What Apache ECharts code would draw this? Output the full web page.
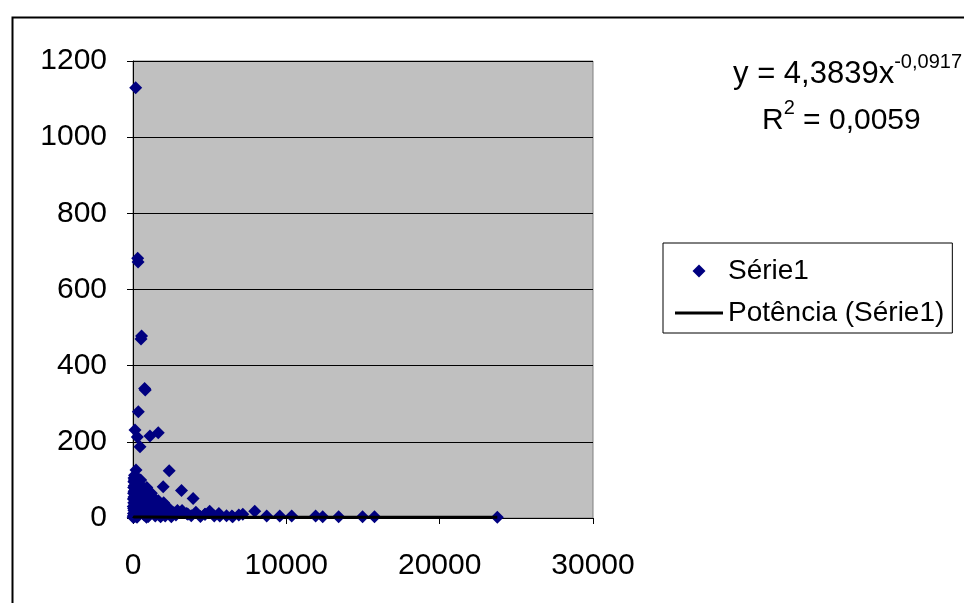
<!DOCTYPE html>
<html>
<head>
<meta charset="utf-8">
<script src="https://cdn.jsdelivr.net/npm/echarts@6/dist/echarts.min.js"></script>
<style>
  html, body { margin: 0; padding: 0; background: #fff; }
  #chart { width: 964px; height: 603px; }
</style>
</head>
<body>
<div id="chart"></div>
<script>
// pontos dispersos (x, y)
var outliers = [
    [175, 1130], [305, 682], [330, 672], [520, 470], [560, 478],
    [760, 340], [800, 336], [345, 279], [130, 231], [280, 213],
    [455, 187], [1105, 215], [1645, 224], [195, 126], [2360, 124],
    [1970, 82], [3165, 72], [3920, 51]
];
var cluster = [
    [20, 5], [30, 12], [40, 25], [50, 40], [60, 55], [70, 70], [80, 85], [90, 100],
    [100, 112], [60, 20], [120, 35], [150, 60], [180, 75], [200, 95], [220, 108],
    [250, 8], [280, 18], [300, 30], [320, 48], [350, 65], [380, 80], [10, 2],
    [15, 30], [25, 50], [35, 65], [45, 80], [55, 95], [65, 105], [110, 3],
    [160, 15], [260, 2], [400, 90], [420, 70], [450, 50],
    [500, 100], [550, 85], [600, 70], [650, 55], [700, 40], [750, 25], [800, 12],
    [850, 5], [900, 80], [950, 60], [1000, 45], [1050, 30], [1100, 18], [520, 35],
    [620, 20], [720, 8], [880, 2], [1000, 4],
    [1200, 65], [1300, 55], [1400, 40], [1500, 28], [1600, 15], [1700, 8], [1800, 3],
    [1250, 20], [1450, 5], [1650, 45], [1850, 35],
    [2000, 40], [2200, 30], [2400, 22], [2600, 15], [2800, 8], [2100, 5], [2500, 3],
    [2900, 20], [3200, 20], [3500, 12], [3800, 6], [4100, 15], [4400, 4], [4700, 10],
    [5000, 18], [5300, 5], [5600, 12], [6100, 6], [6500, 3], [6900, 8]
];
var baseRow = [
    [2210, 21], [2730, 13], [3580, 10], [4690, 10], [5660, 5], [6450, 5], [7160, 10],
    [7940, 18], [8720, 5], [9570, 5], [10350, 5], [11910, 5], [12370, 3], [13410, 3],
    [14970, 3], [15750, 3], [23760, 2]
];
// linha de tendência (potência)
var trend = [[1, 4.4], [10, 3.6], [100, 2.9], [1000, 2.3], [5000, 2.0], [10000, 1.9], [23760, 1.7]];

var xTicks = [0, 30000, 10000];
var yTicks = [0, 1200, 200];

var serie1 = outliers.concat(cluster).concat(baseRow);

var myChart = echarts.init(document.getElementById('chart'));
var fonte = 'Liberation Sans, Arial, sans-serif';

var option = {
    backgroundColor: '#fff',
    animation: false,
    grid: {
        left: 133, top: 61, width: 460, height: 457,
        show: true, backgroundColor: '#C0C0C0', borderColor: '#808080', borderWidth: 1
    },
    xAxis: {
        type: 'value', min: xTicks[0], max: xTicks[1], interval: xTicks[2],
        axisLine: { show: true, lineStyle: { color: '#000', width: 1 } },
        axisTick: { show: true, length: 6, lineStyle: { color: '#000' } },
        axisLabel: {
            color: '#000', fontSize: 30, fontFamily: fonte, margin: 33,
            formatter: function (v) { return String(v); }
        },
        splitLine: { show: false }
    },
    yAxis: {
        type: 'value', min: yTicks[0], max: yTicks[1], interval: yTicks[2],
        axisLine: { show: true, lineStyle: { color: '#000', width: 1 } },
        axisTick: { show: true, length: 6, lineStyle: { color: '#000' } },
        axisLabel: {
            color: '#000', fontSize: 30, fontFamily: fonte, margin: 26,
            formatter: function (v) { return String(v); }
        },
        splitLine: { show: true, lineStyle: { color: '#000', width: 1 } }
    },
    legend: {
        orient: 'vertical', left: 663, top: 243,
        borderColor: '#000', borderWidth: 1, padding: [14, 8, 6, 12],
        itemWidth: 48, itemHeight: 13, itemGap: 14, symbolKeepAspect: true,
        textStyle: { color: '#000', fontSize: 28, fontFamily: fonte },
        data: [
            { name: 'Série1', icon: 'path://M5,0L10,5L5,10L0,5Z' },
            { name: 'Potência (Série1)', icon: 'path://M0,0L48,0L48,3L0,3Z' }
        ]
    },
    graphic: [
        {
            type: 'rect', left: 10, top: 15, silent: true,
            shape: { width: 1000, height: 700 },
            style: { fill: null, stroke: '#000', lineWidth: 2 }
        },
        {
            type: 'text', right: 2, top: 52,
            style: {
                text: '{a|y = 4,3839x}{s|-0,0917}',
                rich: {
                    a: { fontSize: 31, fontFamily: fonte, fill: '#000', lineHeight: 38, verticalAlign: 'bottom' },
                    s: { fontSize: 20, fontFamily: fonte, fill: '#000', lineHeight: 38, verticalAlign: 'top' }
                }
            }
        },
        {
            type: 'text', left: 762, top: 98,
            style: {
                text: '{a|R}{s|2}{a| = 0,0059}',
                rich: {
                    a: { fontSize: 30, fontFamily: fonte, fill: '#000', lineHeight: 38, verticalAlign: 'bottom' },
                    s: { fontSize: 20, fontFamily: fonte, fill: '#000', lineHeight: 38, verticalAlign: 'top' }
                }
            }
        }
    ],
    series: [
        {
            name: 'Série1', type: 'scatter', symbol: 'diamond', symbolSize: 13,
            itemStyle: { color: '#000080', opacity: 1 },
            data: serie1, z: 2
        },
        {
            name: 'Potência (Série1)', type: 'line', symbol: 'none', smooth: true,
            lineStyle: { color: '#000', width: 3 },
            itemStyle: { color: '#000' },
            data: trend, z: 3
        }
    ]
};

myChart.setOption(option);
</script>
</body>
</html>
